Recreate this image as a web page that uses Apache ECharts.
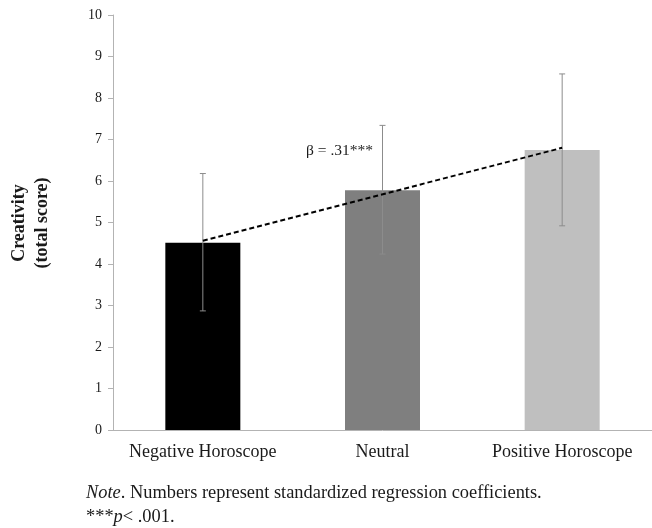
<!DOCTYPE html>
<html>
<head>
<meta charset="utf-8">
<script src="https://cdn.jsdelivr.net/npm/echarts@6/dist/echarts.min.js"></script>
<style>
  html, body { margin: 0; padding: 0; background: #fff; }
  #chart { width: 652px; height: 528px; }
</style>
</head>
<body>
<div id="chart"></div>
<script>
// Creativity score by horoscope condition
const categories = ['Negative Horoscope', 'Neutral', 'Positive Horoscope'];
const means = [4.51, 5.78, 6.75];
const errLow = [2.87, 4.24, 4.92];
const errHigh = [6.18, 7.34, 8.58];
const trendLine = [4.56, 6.80];
const barColors = ['#000000', '#7f7f7f', '#bfbfbf'];
const yTicks = [0, 10, 1];

const serif = '"Liberation Serif", "Times New Roman", serif';
const chart = echarts.init(document.getElementById('chart'));

chart.setOption({
  animation: false,
  backgroundColor: '#ffffff',
  grid: { left: 113, top: 15, width: 544, height: 415 },
  xAxis: {
    type: 'category',
    data: categories,
    boundaryGap: true,
    axisLine: { lineStyle: { color: '#b3b3b3', width: 1 } },
    axisTick: { alignWithLabel: true, length: 5, lineStyle: { color: '#b3b3b3' } },
    axisLabel: { interval: 0, color: '#1a1a1a', fontFamily: serif, fontSize: 18, margin: 13 }
  },
  yAxis: {
    type: 'value',
    min: yTicks[0], max: yTicks[1], interval: yTicks[2],
    axisLine: { show: true, lineStyle: { color: '#b3b3b3', width: 1 } },
    axisTick: { show: true, length: 5, lineStyle: { color: '#b3b3b3' } },
    splitLine: { show: false },
    axisLabel: { color: '#1a1a1a', fontFamily: serif, fontSize: 14, margin: 11 }
  },
  series: [
    {
      type: 'bar',
      barWidth: 75,
      data: means.map((v, i) => ({ value: v, itemStyle: { color: barColors[i] } })),
      z: 1
    },
    {
      type: 'custom',
      data: categories.map((c, i) => [i, errLow[i], errHigh[i]]),
      renderItem: function (params, api) {
        const x = api.value(0);
        const lo = api.coord([x, api.value(1)]);
        const hi = api.coord([x, api.value(2)]);
        const cap = 3;
        const style = { stroke: '#8c8c8c', lineWidth: 1 };
        return {
          type: 'group',
          children: [
            { type: 'line', shape: { x1: lo[0], y1: lo[1], x2: hi[0], y2: hi[1] }, style: style },
            { type: 'line', shape: { x1: lo[0] - cap, y1: lo[1], x2: lo[0] + cap, y2: lo[1] }, style: style },
            { type: 'line', shape: { x1: hi[0] - cap, y1: hi[1], x2: hi[0] + cap, y2: hi[1] }, style: style }
          ]
        };
      },
      z: 2
    },
    {
      type: 'line',
      data: [[0, trendLine[0]], [2, trendLine[1]]],
      symbol: 'none',
      lineStyle: { color: '#000', width: 2, type: [5, 3] },
      z: 3
    }
  ],
  graphic: [
    {
      type: 'text',
      x: 31, y: 223,
      rotation: Math.PI / 2,
      style: {
        text: 'Creativity\n(total score)',
        font: 'bold 18px ' + serif,
        fill: '#1a1a1a',
        align: 'center',
        verticalAlign: 'middle',
        lineHeight: 23
      }
    },
    {
      type: 'text',
      x: 306, y: 151,
      style: {
        text: 'β = .31***',
        font: '15.5px ' + serif,
        fill: '#1a1a1a',
        verticalAlign: 'middle'
      }
    },
    {
      type: 'text',
      x: 86, y: 481,
      style: {
        text: '{i|Note}. Numbers represent standardized regression coefficients.\n***{i|p}< .001.',
        font: '18.4px ' + serif,
        fill: '#1a1a1a',
        verticalAlign: 'top',
        lineHeight: 24,
        rich: {
          i: { fontStyle: 'italic', fontFamily: serif, fontSize: 18.4, fill: '#1a1a1a' }
        }
      }
    }
  ]
});
</script>
</body>
</html>
